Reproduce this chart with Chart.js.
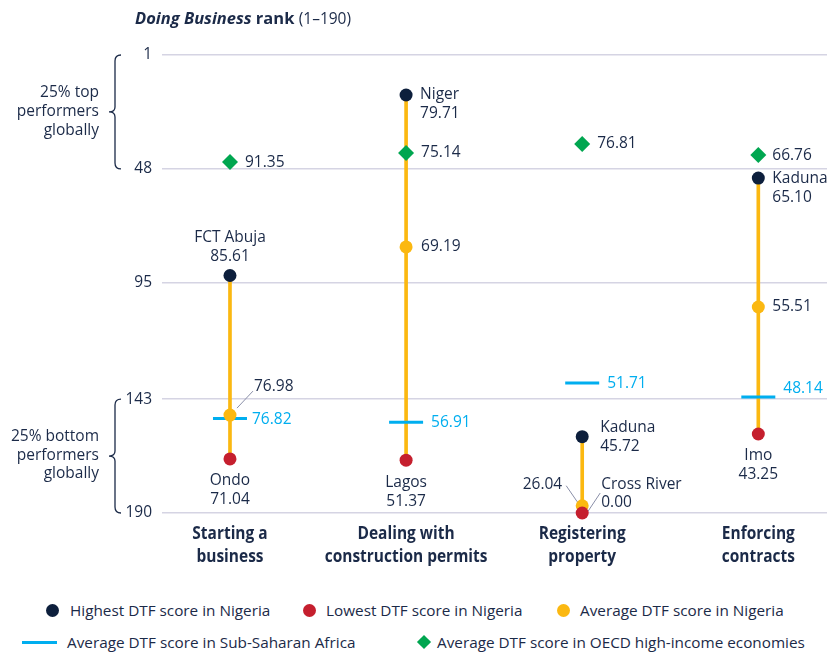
<!DOCTYPE html>
<html>
<head>
<meta charset="utf-8">
<script src="https://cdn.jsdelivr.net/npm/chart.js@4.4.0/dist/chart.umd.min.js"></script>
<style>
  body { margin: 0; background: #fff; font-family: "Open Sans", sans-serif; color: #1b2a48; }
  #wrap { position: relative; width: 827px; height: 653px; }
  #c { position: absolute; left: 0; top: 0; }
  .title { position: absolute; left: 135px; top: 6px; font-size: 16.5px; white-space: nowrap; }
  .leg { position: absolute; font-size: 15.3px; white-space: nowrap; line-height: 20px; }
  .dot { position: absolute; width: 13px; height: 13px; border-radius: 50%; }
</style>
</head>
<body>
<div id="wrap">
  <canvas id="c" width="827" height="580"></canvas>
  <div class="title"><b><i>Doing Business</i> rank</b> <span style="font-size:15.5px">(1–190)</span></div>

  <div class="dot" style="left:46px;top:604px;background:#0d1f3c"></div>
  <div class="leg" style="left:70px;top:600px">Highest DTF score in Nigeria</div>
  <div class="dot" style="left:303px;top:604px;background:#c51f2e"></div>
  <div class="leg" style="left:326px;top:600px">Lowest DTF score in Nigeria</div>
  <div class="dot" style="left:557px;top:604px;background:#fbb811"></div>
  <div class="leg" style="left:580px;top:600px">Average DTF score in Nigeria</div>

  <div style="position:absolute;left:22px;top:641px;width:35px;height:3px;background:#00aeef"></div>
  <div class="leg" style="left:67px;top:632px">Average DTF score in Sub-Saharan Africa</div>
  <div style="position:absolute;left:419px;top:637px;width:10px;height:10px;background:#00a650;transform:rotate(45deg)"></div>
  <div class="leg" style="left:437px;top:632px">Average DTF score in OECD high-income economies</div>
</div>

<script>
// categorías y valores (rango Doing Business, 1 = mejor)
const categories = [['Starting a', 'business'], ['Dealing with', 'construction permits'], ['Registering', 'property'], ['Enforcing', 'contracts']];
const yTicks = [1, 48, 95, 143, 190];

const highName  = ['FCT Abuja', 'Niger', 'Kaduna', 'Kaduna'];
const highScore = [85.61, 79.71, 45.72, 65.10];
const highRank  = [92, 17.5, 158.5, 51.8];

const lowName  = ['Ondo', 'Lagos', 'Cross River', 'Imo'];
const lowScore = [71.04, 51.37, 0.00, 43.25];
const lowRank  = [167.7, 168.2, 190, 157.4];

const avgScore = [76.98, 69.19, 26.04, 55.51];
const avgRank  = [149.6, 80.2, 187, 105];

const ssaScore = [76.82, 56.91, 51.71, 48.14];
const ssaRank  = [151, 152.5, 136.4, 142.1];

const oecdScore = [91.35, 75.14, 76.81, 66.76];
const oecdRank  = [45.2, 41.4, 37.7, 42.3];

const NAVY = '#1b2a48';
const FONT = '"Open Sans", sans-serif';

const pts = arr => arr.map((v, i) => ({ x: i, y: v }));

// donde va cada etiqueta (solo posición, no datos)
const place = [
  { high: 'above', low: 'below', avg: 'leaderUp', ssa: [22, 1], oecd: 15 },
  { high: 'right', low: 'below', avg: 15, ssa: [25, 0], oecd: 15 },
  { high: 'rightMid', low: 'leaderRight', avg: 'leaderLeft', ssa: [25, 0], oecd: 15 },
  { high: 'right', low: 'below', avg: 14, ssa: [25, -8], oecd: 14 }
];

function text(ctx, s, x, y, align, color) {
  ctx.fillStyle = color || NAVY;
  ctx.textAlign = align;
  ctx.fillText(s, x, y);
}
function leader(ctx, x1, y1, x2, y2) {
  ctx.strokeStyle = '#8a8fa8';
  ctx.lineWidth = 1;
  ctx.beginPath();
  ctx.moveTo(x1, y1);
  ctx.lineTo(x2, y2);
  ctx.stroke();
}
function brace(ctx, x, y1, y2) {
  const ym = (y1 + y2) / 2;
  ctx.strokeStyle = NAVY;
  ctx.lineWidth = 1.3;
  ctx.beginPath();
  ctx.moveTo(x + 6, y1);
  ctx.quadraticCurveTo(x, y1, x, y1 + 6);
  ctx.lineTo(x, ym - 5);
  ctx.quadraticCurveTo(x, ym, x - 6, ym);
  ctx.quadraticCurveTo(x, ym, x, ym + 5);
  ctx.lineTo(x, y2 - 6);
  ctx.quadraticCurveTo(x, y2, x + 6, y2);
  ctx.stroke();
}

const labelPlugin = {
  id: 'labels',
  afterDatasetsDraw(chart) {
    const ctx = chart.ctx;
    const xs = chart.scales.x, ys = chart.scales.y;
    ctx.save();
    ctx.textBaseline = 'middle';

    // nombres de categoría (tipografía algo condensada)
    ctx.font = 'bold 17px ' + FONT;
    const yb = chart.chartArea.bottom;
    categories.forEach((c, i) => {
      const x = xs.getPixelForValue(i);
      c.forEach((line, k) => {
        ctx.save();
        ctx.translate(x, yb + 21 + k * 23);
        ctx.scale(0.91, 1);
        text(ctx, line, 0, 0, 'center');
        ctx.restore();
      });
    });

    ctx.font = '15.5px ' + FONT;
    // llaves y textos de la izquierda
    brace(ctx, 115, ys.getPixelForValue(1), ys.getPixelForValue(48));
    brace(ctx, 115, ys.getPixelForValue(143), ys.getPixelForValue(190));
    const yTop = (ys.getPixelForValue(1) + ys.getPixelForValue(48)) / 2;
    const yBot = (ys.getPixelForValue(143) + ys.getPixelForValue(190)) / 2;
    ['25% top', 'performers', 'globally'].forEach((s, k) => text(ctx, s, 99, yTop - 19 + k * 19, 'right'));
    ['25% bottom', 'performers', 'globally'].forEach((s, k) => text(ctx, s, 99, yBot - 19 + k * 18.5, 'right'));

    categories.forEach((c, i) => {
      const x = xs.getPixelForValue(i);
      const p = place[i];

      // máximo
      let y = ys.getPixelForValue(highRank[i]);
      const hs = highScore[i].toFixed(2);
      if (p.high === 'above') { text(ctx, highName[i], x, y - 38, 'center'); text(ctx, hs, x, y - 19, 'center'); }
      if (p.high === 'right') { text(ctx, highName[i], x + 14, y, 'left'); text(ctx, hs, x + 14, y + 19, 'left'); }
      if (p.high === 'rightMid') { text(ctx, highName[i], x + 18, y - 9, 'left'); text(ctx, hs, x + 18, y + 10, 'left'); }

      // mínimo
      y = ys.getPixelForValue(lowRank[i]);
      const ls = lowScore[i].toFixed(2);
      if (p.low === 'below') { text(ctx, lowName[i], x, y + 22, 'center'); text(ctx, ls, x, y + 41, 'center'); }
      if (p.low === 'leaderRight') {
        text(ctx, lowName[i], x + 19, y - 28, 'left'); text(ctx, ls, x + 19, y - 10, 'left');
        leader(ctx, x + 18, y - 20, x + 6, y - 2);
      }

      // promedio
      y = ys.getPixelForValue(avgRank[i]);
      const as = avgScore[i].toFixed(2);
      if (typeof p.avg === 'number') text(ctx, as, x + p.avg, y, 'left');
      if (p.avg === 'leaderUp') { text(ctx, as, x + 24, y - 29, 'left'); leader(ctx, x + 7, y - 7, x + 23, y - 24); }
      if (p.avg === 'leaderLeft') { text(ctx, as, x - 20, y - 21, 'right'); leader(ctx, x - 16, y - 20, x - 5, y - 4); }

      // África subsahariana
      y = ys.getPixelForValue(ssaRank[i]);
      text(ctx, ssaScore[i].toFixed(2), x + p.ssa[0], y + p.ssa[1], 'left', '#00aeef');

      // OCDE
      y = ys.getPixelForValue(oecdRank[i]);
      text(ctx, oecdScore[i].toFixed(2), x + p.oecd, y, 'left');
    });
    ctx.restore();
  }
};

new Chart(document.getElementById('c'), {
  data: {
    datasets: [
      {
        type: 'bar', label: 'range',
        data: highRank.map((h, i) => ({ x: i, y: [h, lowRank[i]] })),
        backgroundColor: '#fbb811', barThickness: 3, order: 6
      },
      {
        type: 'scatter', label: 'SSA', data: pts(ssaRank),
        pointStyle: 'line', pointRadius: 17, borderColor: '#00aeef', pointBorderWidth: 3, order: 5, clip: false
      },
      {
        type: 'scatter', label: 'OECD', data: pts(oecdRank),
        pointStyle: 'rectRot', pointRadius: 8, backgroundColor: '#00a650', borderWidth: 0, order: 4, clip: false
      },
      {
        type: 'scatter', label: 'Average', data: pts(avgRank),
        pointRadius: 6.5, backgroundColor: '#fbb811', borderWidth: 0, order: 3, clip: false
      },
      {
        type: 'scatter', label: 'Highest', data: pts(highRank),
        pointRadius: 6.5, backgroundColor: '#0d1f3c', borderWidth: 0, order: 2, clip: false
      },
      {
        type: 'scatter', label: 'Lowest', data: pts(lowRank),
        pointRadius: 6.5, backgroundColor: '#c51f2e', borderWidth: 0, order: 1, clip: false
      }
    ]
  },
  options: {
    responsive: false,
    animation: false,
    layout: { autoPadding: false, padding: { top: 55, right: 0, bottom: 0, left: 0 } },
    plugins: { legend: { display: false }, tooltip: { enabled: false } },
    scales: {
      x: {
        type: 'linear', min: -0.386, max: 3.39, offset: false,
        afterFit: s => { s.height = 67; s.paddingLeft = 0; s.paddingRight = 0; },
        ticks: { display: false },
        grid: { display: false, drawTicks: false, offset: false },
        border: { display: false }
      },
      y: {
        type: 'linear', reverse: true, min: 1, max: 190,
        afterBuildTicks: s => { s.ticks = yTicks.map(v => ({ value: v })); },
        afterFit: s => { s.width = 162; },
        ticks: { color: NAVY, font: { family: FONT, size: 15.5 }, padding: 10 },
        grid: { color: '#d5d4e3', lineWidth: 1.5, drawTicks: false },
        border: { display: false }
      }
    }
  },
  plugins: [labelPlugin]
});
</script>
</body>
</html>
